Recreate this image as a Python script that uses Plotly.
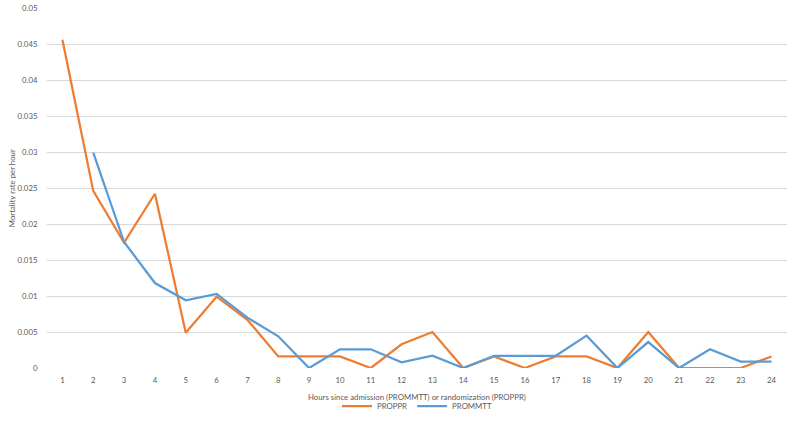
import plotly.graph_objects as go

hours = [str(h) for h in range(1, 25)]
proppr = [0.0456, 0.0246, 0.0174, 0.0242, 0.0049, 0.0099, 0.0067, 0.0016, 0.0016, 0.0016,
          0.0, 0.0033, 0.0050, 0.0, 0.0016, 0.0, 0.0016, 0.0016, 0.0, 0.0050,
          0.0, 0.0, 0.0, 0.0016]
prommtt = [None, 0.0299, 0.0175, 0.0118, 0.0094, 0.0103, 0.0070, 0.0044, 0.0, 0.0026,
           0.0026, 0.0008, 0.0017, 0.0, 0.0017, 0.0017, 0.0017, 0.0045, 0.0, 0.0036,
           0.0, 0.0026, 0.0009, 0.0009]

font_family = "Lato, Open Sans, sans-serif"
grey = "#595959"
fs = 7.8

fig = go.Figure()
fig.add_trace(go.Scatter(x=hours, y=proppr, mode="lines", name="PROPPR",
                         line=dict(color="#ED7D31", width=2.25)))
fig.add_trace(go.Scatter(x=hours, y=prommtt, mode="lines", name="PROMMTT",
                         line=dict(color="#5B9BD5", width=2.25)))

fig.update_layout(
    width=800, height=424,
    margin=dict(l=47, r=13, t=8, b=56, autoexpand=False),
    paper_bgcolor="white", plot_bgcolor="white",
    font=dict(family=font_family, size=fs, color=grey),
    showlegend=True,
    legend=dict(orientation="h", x=0.5, xanchor="center", yref="container",
                y=0.042, yanchor="middle",
                font=dict(size=fs, color=grey), itemwidth=30),
    xaxis=dict(type="category", range=[-0.5, 23.5], showgrid=False, zeroline=False,
               showline=False, ticks="outside", ticklen=5, tickcolor="white",
               automargin=False, tickfont=dict(size=fs, color=grey)),
    yaxis=dict(range=[0, 0.05], dtick=0.005, showgrid=True, gridcolor="#D9D9D9",
               gridwidth=1, zeroline=False, showline=False, ticks="outside",
               ticklen=7, tickcolor="white", automargin=False,
               tickfont=dict(size=fs, color=grey)),
    annotations=[
        dict(text="Hours since admission (PROMMTT) or randomization (PROPPR)",
             xref="paper", yref="paper", x=0.5, y=-0.08, yanchor="middle",
             showarrow=False, font=dict(size=fs, color=grey)),
        dict(text="Mortality rate per hour", xref="paper", yref="paper",
             x=-0.047, y=0.5, xanchor="center", textangle=-90,
             showarrow=False, font=dict(size=fs, color=grey)),
    ],
)

fig.write_html("out.html", config={"displayModeBar": False},
               post_script="document.body.style.margin='0';document.body.style.overflow='hidden';")
